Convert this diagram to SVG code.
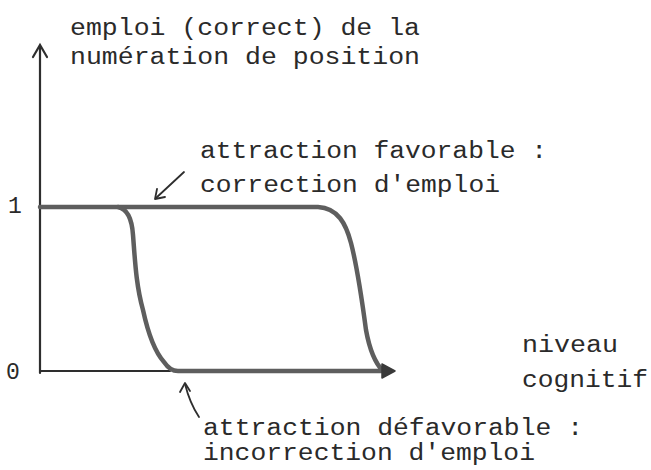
<svg xmlns="http://www.w3.org/2000/svg" width="651" height="470" viewBox="0 0 651 470">
<style>
.t{font-family:"Liberation Mono","DejaVu Sans Mono",monospace;font-size:23px;fill:#2a2a2a}
.ax{stroke:#2e2e2e;stroke-width:2.2;fill:none;stroke-linecap:round}
.cv{stroke:#5e5e5e;stroke-width:4.5;fill:none;stroke-linecap:round;stroke-linejoin:round}
.pt{stroke:#2e2e2e;stroke-width:1.8;fill:none;stroke-linecap:round;stroke-linejoin:round}
</style>
<rect width="651" height="470" fill="#ffffff"/>
<g id="connectors">
<path class="ax" d="M40 373 V46"/>
<path class="ax" d="M33 57 L40 45 L47 57"/>
<path class="ax" d="M40 371 H170"/>
<path class="cv" d="M40 207 H318 C338 208 346 224 351 243 C358 270 362 300 366 330 C370 352 376 364 383 371"/>
<path class="cv" d="M118 207 C128 209 132 220 133 235 C135 260 136 285 143 310 C148 333 155 352 164 362 C168 368 172 371 178 371 H390"/>
<path d="M382 364 L395 371 L382 378 Z" fill="#3a3a3a" stroke="#3a3a3a" stroke-width="1.5" stroke-linejoin="round"/>
<path class="pt" d="M184 172 L156 198"/>
<path class="pt" d="M157 189 L155 199 L165 197"/>
<path class="pt" d="M199 417 C193 408 188 396 185 384"/>
<path class="pt" d="M180 392 L185 383 L190 391"/>
</g>
<g id="axis-labels">
<text class="t" x="8" y="213">1</text>
<text class="t" x="6" y="379">0</text>
</g>
<g id="y-title">
<text class="t" x="70" y="35" textLength="350" lengthAdjust="spacingAndGlyphs">emploi (correct) de la</text>
<text class="t" x="70" y="64" textLength="350" lengthAdjust="spacingAndGlyphs">numération de position</text>
</g>
<g id="x-title">
<text class="t" x="522" y="352" textLength="96" lengthAdjust="spacingAndGlyphs">niveau</text>
<text class="t" x="522" y="387" textLength="126" lengthAdjust="spacingAndGlyphs">cognitif</text>
</g>
<g id="label-favorable">
<text class="t" x="200" y="158" textLength="347" lengthAdjust="spacingAndGlyphs">attraction favorable :</text>
<text class="t" x="200" y="192" textLength="300" lengthAdjust="spacingAndGlyphs">correction d'emploi</text>
</g>
<g id="label-defavorable">
<text class="t" x="203" y="435" textLength="380" lengthAdjust="spacingAndGlyphs">attraction défavorable :</text>
<text class="t" x="203" y="460" textLength="332" lengthAdjust="spacingAndGlyphs">incorrection d'emploi</text>
</g>
</svg>
